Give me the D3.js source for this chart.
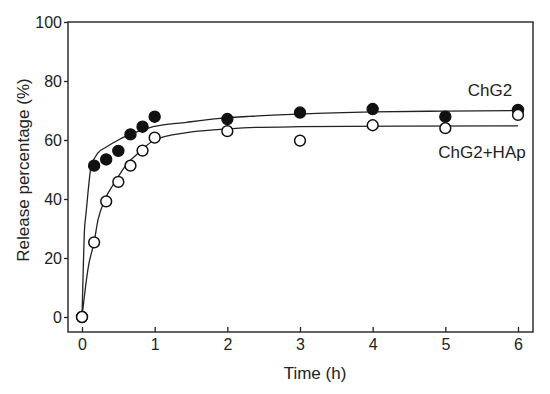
<!DOCTYPE html>
<html><head><meta charset="utf-8">
<script src="https://cdn.jsdelivr.net/npm/d3@7"></script>
<style>body{margin:0;background:#fff}svg{display:block}text{font-family:"Liberation Sans",Arial,sans-serif;fill:#222}</style>
</head><body><svg id="c" width="550" height="394"></svg>
<script>
const times = [0, 0.167, 0.333, 0.5, 0.667, 0.833, 1, 2, 3, 4, 5, 6];
const chg2 = [0, 51.3, 53.4, 56.3, 61.9, 64.5, 67.9, 67.1, 69.3, 70.5, 67.9, 70.2];
const chg2hap = [0, 25.3, 39.2, 45.8, 51.3, 56.4, 60.8, 63.0, 59.8, 65.0, 64.0, 68.5];
const fitChg2T = [0, 0.018, 0.032, 0.055, 0.073, 0.1, 0.124, 0.22, 0.34, 0.5, 0.6, 0.98, 1.44, 1.9, 2.3, 3, 4, 5, 6];
const fitChg2V = [0, 17, 28.5, 35, 39.7, 46.4, 51, 55.6, 57.7, 60, 61.2, 64.5, 66, 67.3, 68, 68.8, 69.5, 69.8, 70];
const fitHapT = [0, 0.087, 0.167, 0.22, 0.31, 0.47, 0.59, 0.75, 1.0, 1.44, 1.9, 2.3, 3, 4.37, 6];
const fitHapV = [0, 17, 25.5, 32.9, 39.5, 46.4, 51, 55, 60, 62.5, 63.6, 64.2, 64.5, 64.7, 64.8];
const xTicks = [0, 1, 2, 3, 4, 5, 6];
const yTicks = [0, 20, 40, 60, 80, 100];

const svg = d3.select("#c");
const L = 68, R = 533, T = 22, B = 332;
const x = d3.scaleLinear().domain([0, 6]).range([82, 518]);
const y = d3.scaleLinear().domain([0, 100]).range([317, 22]);
const ink = "#222";

// frame
svg.append("rect").attr("x", L).attr("y", T).attr("width", R - L).attr("height", B - T)
  .attr("fill", "none").attr("stroke", ink).attr("stroke-width", 1.4);

// x axis (inward ticks)
const xa = svg.append("g").attr("transform", `translate(0,${B})`)
  .call(d3.axisBottom(x).tickValues(xTicks).tickFormat(d3.format("d")).tickSizeInner(-5).tickSizeOuter(0).tickPadding(7));
xa.select(".domain").remove();
xa.selectAll("line").attr("stroke", ink).attr("stroke-width", 1.3);
xa.selectAll("text").attr("font-size", 16).attr("fill", ink).attr("font-family", '"Liberation Sans",Arial,sans-serif');

// y axis (outward ticks)
const ya = svg.append("g").attr("transform", `translate(${L},0)`)
  .call(d3.axisLeft(y).tickValues(yTicks).tickFormat(d3.format("d")).tickSizeInner(4).tickSizeOuter(0).tickPadding(2));
ya.select(".domain").remove();
ya.selectAll("line").attr("stroke", ink).attr("stroke-width", 1.3);
ya.selectAll("text").attr("font-size", 16).attr("fill", ink).attr("font-family", '"Liberation Sans",Arial,sans-serif');

// titles
svg.append("text").attr("x", 315).attr("y", 379).attr("text-anchor", "middle").attr("font-size", 17).text("Time (h)");
svg.append("text").attr("transform", "translate(29,170) rotate(-90)").attr("text-anchor", "middle").attr("font-size", 17).text("Release percentage (%)");

// fit curves
const line = d3.line().x(d => x(d[0])).y(d => y(d[1])).curve(d3.curveMonotoneX);
svg.append("path").datum(fitChg2T.map((t, i) => [t, fitChg2V[i]])).attr("d", line)
  .attr("fill", "none").attr("stroke", ink).attr("stroke-width", 1.3);
svg.append("path").datum(fitHapT.map((t, i) => [t, fitHapV[i]])).attr("d", line)
  .attr("fill", "none").attr("stroke", ink).attr("stroke-width", 1.3);

// points
svg.append("g").selectAll("circle").data(times.map((t, i) => [t, chg2[i]])).join("circle")
  .attr("cx", d => x(d[0])).attr("cy", d => y(d[1])).attr("r", 5.6)
  .attr("fill", "#111").attr("stroke", "#111").attr("stroke-width", 1.2);
svg.append("g").selectAll("circle").data(times.map((t, i) => [t, chg2hap[i]])).join("circle")
  .attr("cx", d => x(d[0])).attr("cy", d => y(d[1])).attr("r", 5.4)
  .attr("fill", "#fff").attr("stroke", "#111").attr("stroke-width", 1.5);

// series labels
svg.append("text").attr("x", 490).attr("y", 96).attr("text-anchor", "middle").attr("font-size", 17).text("ChG2");
svg.append("text").attr("x", 482).attr("y", 158).attr("text-anchor", "middle").attr("font-size", 17).text("ChG2+HAp");
</script></body></html>
